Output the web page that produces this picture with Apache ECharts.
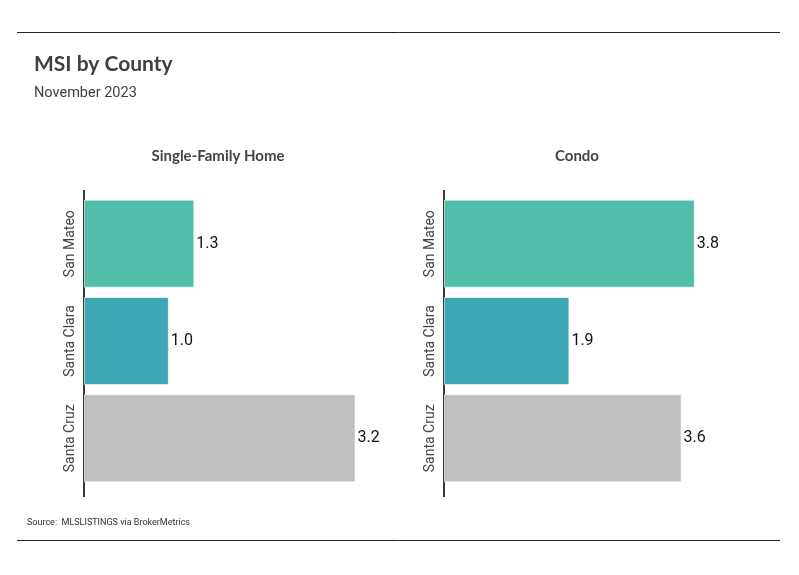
<!DOCTYPE html>
<html>
<head>
<meta charset="utf-8">
<script src="https://cdn.jsdelivr.net/npm/echarts@6/dist/echarts.min.js"></script>
<style>html,body{margin:0;padding:0;background:#fff}#c{width:799px;height:575px}</style>
</head>
<body>
<div id="c"></div>
<script>
const counties = ['San Mateo', 'Santa Clara', 'Santa Cruz'];
const barColors = ['#52BEAA', '#3DA7B4', '#BFBFBF'];
const singleFamily = [1.3, 1.0, 3.2];
const condo = [3.8, 1.9, 3.6];
const panelTitles = ['Single-Family Home', 'Condo'];
const axisMax = [3.5, 4.5];

const narrow = "Roboto, sans-serif";
const head = "Lato, 'Open Sans', sans-serif";

function mkSeries(data, idx) {
  return {
    type: 'bar', xAxisIndex: idx, yAxisIndex: idx, barWidth: 88,
    data: data.map((v, i) => ({ value: v, itemStyle: { color: barColors[i] } })),
    itemStyle: { borderColor: 'rgba(255,255,255,0.6)', borderWidth: 1 },
    label: { show: true, position: 'right', distance: 2, color: '#111', fontFamily: narrow, fontSize: 16,
      formatter: p => p.value.toFixed(1) },
    silent: true, animation: false
  };
}
function mkY(idx) {
  return {
    type: 'category', gridIndex: idx, data: counties, inverse: true,
    axisLine: { show: true, lineStyle: { color: '#3a3a3a', width: 2 } },
    axisTick: { show: false },
    axisLabel: { interval: 0, hideOverlap: false, rotate: 90, margin: 7, color: '#444', fontFamily: narrow, fontSize: 14, align: 'center', verticalAlign: 'bottom' }
  };
}
function mkX(idx) {
  return { type: 'value', gridIndex: idx, min: 0, max: axisMax[idx], show: false, splitLine: { show: false } };
}
const lineStyle = { stroke: '#3a3a3a', lineWidth: 2 };

const chart = echarts.init(document.getElementById('c'), null, { renderer: 'canvas' });
chart.setOption({
  animation: false,
  backgroundColor: '#fff',
  title: [
    { text: 'MSI by County', left: 34, top: 54, padding: 0, textStyle: { fontFamily: head, fontWeight: 'bold', fontSize: 21, color: '#404040' } },
    { text: 'November 2023', left: 34, top: 86, padding: 0, textStyle: { fontFamily: narrow, fontWeight: 'normal', fontSize: 14.5, color: '#404040' } },
    { text: panelTitles[0], left: 218, textAlign: 'center', top: 149, padding: 0, textStyle: { fontFamily: head, fontWeight: 'bold', fontSize: 15, color: '#444' } },
    { text: panelTitles[1], left: 577, textAlign: 'center', top: 149, padding: 0, textStyle: { fontFamily: head, fontWeight: 'bold', fontSize: 15, color: '#444' } },
    { text: 'Source:  MLSLISTINGS via BrokerMetrics', left: 27, top: 518, padding: 0, textStyle: { fontFamily: narrow, fontWeight: 'normal', fontSize: 9, color: '#333' } }
  ],
  grid: [
    { left: 84, top: 195, width: 297, height: 292 },
    { left: 444, top: 195, width: 297, height: 292 }
  ],
  xAxis: [mkX(0), mkX(1)],
  yAxis: [mkY(0), mkY(1)],
  series: [mkSeries(singleFamily, 0), mkSeries(condo, 1)],
  graphic: [
    { type: 'line', shape: { x1: 17, y1: 32.5, x2: 780, y2: 32.5 }, style: { stroke: '#222', lineWidth: 1 } },
    { type: 'line', shape: { x1: 17, y1: 540.5, x2: 780, y2: 540.5 }, style: { stroke: '#222', lineWidth: 1 } },
    { type: 'line', shape: { x1: 84, y1: 190, x2: 84, y2: 196 }, style: lineStyle },
    { type: 'line', shape: { x1: 84, y1: 486, x2: 84, y2: 497 }, style: lineStyle },
    { type: 'line', shape: { x1: 444, y1: 190, x2: 444, y2: 196 }, style: lineStyle },
    { type: 'line', shape: { x1: 444, y1: 486, x2: 444, y2: 497 }, style: lineStyle }
  ]
});
</script>
</body>
</html>
